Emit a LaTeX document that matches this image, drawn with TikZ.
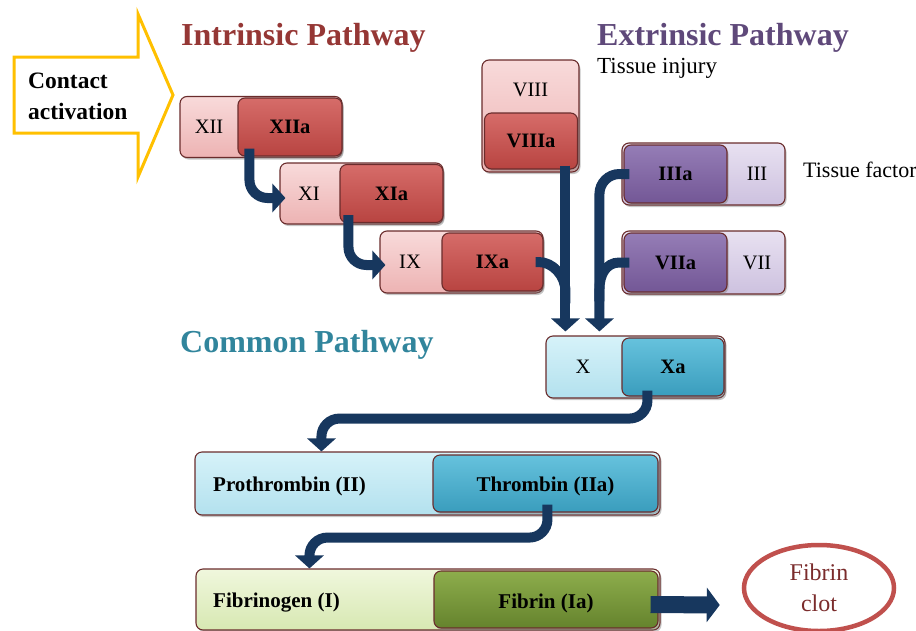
\documentclass[tikz,border=0pt]{standalone}
\usepackage{fontspec}
\setmainfont{Liberation Serif}
\usetikzlibrary{arrows.meta,shadows,calc,shapes.geometric}
\definecolor{pinkT}{HTML}{F8DADA}
\definecolor{pinkB}{HTML}{EDB3B3}
\definecolor{redT}{HTML}{D66C69}
\definecolor{redB}{HTML}{B84441}
\definecolor{purT}{HTML}{957DB6}
\definecolor{purB}{HTML}{735796}
\definecolor{lavT}{HTML}{E8E1F1}
\definecolor{lavB}{HTML}{CDC1DF}
\definecolor{cyanT}{HTML}{D6F2F9}
\definecolor{cyanB}{HTML}{B3E1EE}
\definecolor{tealT}{HTML}{66C2DD}
\definecolor{tealB}{HTML}{3A9DBD}
\definecolor{grnT}{HTML}{F0F7DD}
\definecolor{grnB}{HTML}{D7E8B2}
\definecolor{olvT}{HTML}{8DAD4C}
\definecolor{olvB}{HTML}{65832D}
\definecolor{boxline}{HTML}{6A2C2C}
\definecolor{navy}{HTML}{17375E}
\definecolor{gold}{HTML}{FFC000}
\definecolor{intr}{HTML}{953735}
\definecolor{extr}{HTML}{5F497A}
\definecolor{comm}{HTML}{31859C}
\definecolor{clotred}{HTML}{C0504D}
\definecolor{clottext}{HTML}{7B2C2C}
\begin{document}
\begin{tikzpicture}[x=1pt,y=-1pt,
  fbox/.style={draw=boxline, line width=1.1pt, rounded corners=7pt, inner sep=0pt,
    drop shadow={shadow xshift=1.5pt,shadow yshift=-2pt,opacity=0.45}},
  pinkbox/.style={fbox, top color=pinkT, bottom color=pinkB},
  redbox/.style={fbox, top color=redT, bottom color=redB},
  lavbox/.style={fbox, top color=lavT, bottom color=lavB},
  purbox/.style={fbox, top color=purT, bottom color=purB},
  cyanbox/.style={fbox, top color=cyanT, bottom color=cyanB},
  tealbox/.style={fbox, top color=tealT, bottom color=tealB},
  grnbox/.style={fbox, top color=grnT, bottom color=grnB},
  olvbox/.style={fbox, top color=olvT, bottom color=olvB},
  lbl/.style={font=\fontsize{20.5}{24}\selectfont, text=black, inner sep=0pt},
  blbl/.style={font=\fontsize{20.5}{24}\selectfont\bfseries, text=black, inner sep=0pt},
  wlbl/.style={font=\fontsize{21}{24}\selectfont\bfseries, text=black, inner sep=0pt},
  head/.style={font=\fontsize{32}{36}\selectfont\bfseries, inner sep=0pt, anchor=west},
  conn/.style={draw=navy, line width=10pt, -{Triangle[width=28pt,length=13pt]}},
  link/.style={draw=navy, line width=10pt},
]
\useasboundingbox (0,0) rectangle (916,630);

% headers
\node[head, text=intr] (hint) at (181,38) {Intrinsic Pathway};
\node[head, text=extr] (hext) at (597,38) {Extrinsic Pathway};
\node[head, text=comm] (hcom) at (180,345) {Common Pathway};
\node[font=\fontsize{23}{26}\selectfont, anchor=west, inner sep=0pt] (tinj) at (597,68) {Tissue injury};
\node[font=\fontsize{22}{26}\selectfont, anchor=west, inner sep=0pt] (tfac) at (803,170) {Tissue factor};

% contact activation arrow
\draw[draw=gold, line width=3pt, fill=white, line join=miter]
  (14,57) -- (138,57) -- (138,14) -- (173,95) -- (138,177) -- (138,133) -- (14,133) -- cycle;
\node[font=\fontsize{23.5}{31}\selectfont\bfseries, align=left, anchor=west, inner sep=0pt] (contact) at (28,96) {Contact\\activation};

% intrinsic boxes
\node[pinkbox, minimum width=162pt, minimum height=61pt] (xii) at (261,127) {};
\node[redbox, minimum width=104pt, minimum height=58pt] (xiia) at (290,127) {};
\node[lbl] (txii) at (209,127) {XII};
\node[blbl] (txiia) at (xiia) {XIIa};

\node[pinkbox, minimum width=163pt, minimum height=61pt] (xi) at (361.5,193.5) {};
\node[redbox, minimum width=103pt, minimum height=58pt] (xia) at (391.5,193.5) {};
\node[lbl] (txi) at (309,193.5) {XI};
\node[blbl] (txia) at (xia) {XIa};

\node[pinkbox, minimum width=163pt, minimum height=62pt] (ix) at (461.5,262) {};
\node[redbox, minimum width=101pt, minimum height=58pt] (ixa) at (492.5,262) {};
\node[lbl] (tix) at (410,262) {IX};
\node[blbl] (tixa) at (ixa) {IXa};

\node[pinkbox, minimum width=97pt, minimum height=112pt] (viii) at (530.5,116) {};
\node[redbox, minimum width=93pt, minimum height=56pt] (viiia) at (531,141) {};
\node[lbl] (tviii) at (530.5,90) {VIII};
\node[blbl] (tviiia) at (viiia) {VIIIa};

% extrinsic boxes
\node[lavbox, minimum width=163pt, minimum height=62pt] (iii) at (703.5,174) {};
\node[purbox, minimum width=103pt, minimum height=58pt] (iiia) at (675.5,174) {};
\node[lbl] (tiii) at (757,174) {III};
\node[blbl] (tiiia) at (iiia) {IIIa};

\node[lavbox, minimum width=163pt, minimum height=63pt] (vii) at (703.5,262.5) {};
\node[purbox, minimum width=103pt, minimum height=59pt] (viia) at (675.5,262.5) {};
\node[lbl] (tvii) at (757,262.5) {VII};
\node[blbl] (tviia) at (viia) {VIIa};

% common pathway boxes
\node[cyanbox, minimum width=179pt, minimum height=62pt] (x) at (635.5,367) {};
\node[tealbox, minimum width=102pt, minimum height=58pt] (xa) at (673,367) {};
\node[lbl] (tx) at (583,367) {X};
\node[blbl] (txa) at (xa) {Xa};

\node[cyanbox, minimum width=465pt, minimum height=63pt] (pro) at (427.5,483.5) {};
\node[tealbox, minimum width=225pt, minimum height=57pt] (thr) at (545.5,483.5) {};
\node[wlbl, anchor=west] (tpro) at (213,486) {Prothrombin (II)};
\node[wlbl] (tthr) at (545.5,486) {Thrombin (IIa)};

\node[grnbox, minimum width=464pt, minimum height=61pt] (fbg) at (428,599.5) {};
\node[olvbox, minimum width=224pt, minimum height=57pt] (fbn) at (546,599.5) {};
\node[wlbl, anchor=west] (tfbg) at (213,603) {Fibrinogen (I)};
\node[wlbl] (tfbn) at (546,603) {Fibrin (Ia)};

% clot
\node[ellipse, draw=clotred, line width=4.5pt, fill=white, minimum width=150pt, minimum height=86pt,
  align=center, font=\fontsize{24}{31}\selectfont, text=clottext, inner sep=0pt] (clot) at (819,588) {Fibrin\\clot};

% connectors
\coordinate (tipL) at ([xshift=20pt,yshift=4pt]x.north west);
\coordinate (tipR) at ([xshift=54pt,yshift=4pt]x.north west);

\draw[conn, rounded corners=18pt] ([xshift=12pt,yshift=8pt]xiia.south west) |- ([xshift=6pt,yshift=-4.5pt]xi.west);
\draw[conn, rounded corners=18pt] ([xshift=9pt,yshift=8pt]xia.south west) |- ([xshift=6pt,yshift=-3pt]ix.west);

\draw[link] ([xshift=-8pt]ixa.east) -- ++(3,0) .. controls +(14,0) and +(0,-16) .. ($(tipL)+(0,-40)$) -- ++(0,12);
\draw[conn] ([yshift=4pt]viiia.south -| tipL) -- (tipL);

\draw[link] ([xshift=6pt]viia.west) -- ++(-10,0) .. controls +(-14,0) and +(0,-14) .. ($(tipR)+(0,-42)$) -- ++(0,12);
\draw[conn, rounded corners=20pt] ([xshift=6pt]iiia.west) -| (tipR);

\draw[conn, rounded corners=18pt] ([xshift=26pt,yshift=6pt]xa.south west) -- ++(0,28) -| ([xshift=127pt]pro.north west);
\draw[conn, rounded corners=18pt] ([xshift=115pt,yshift=8pt]thr.south west) -- ++(0,33) -| ([xshift=114pt]fbg.north west);

\draw[draw=navy, line width=17pt, -{Triangle[width=34pt,length=13pt]}] ([xshift=-8pt,yshift=-5pt]fbn.east) -- ([xshift=-22pt,yshift=-17pt]clot.west);
\end{tikzpicture}
\end{document}
